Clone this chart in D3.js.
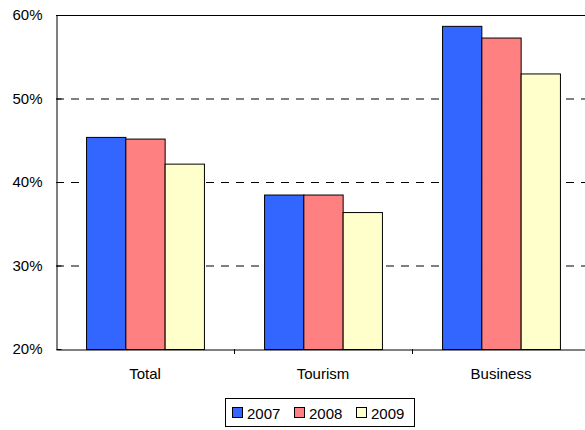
<!DOCTYPE html>
<html><head><meta charset="utf-8">
<script src="https://cdn.jsdelivr.net/npm/d3@7"></script>
<style>body{margin:0;background:#fff;}svg{display:block;font-family:"Liberation Sans",Arial,sans-serif;}</style>
</head><body>
<svg id="c" width="585" height="430"></svg>
<script>
const categories = ["Total", "Tourism", "Business"];
const seriesNames = ["2007", "2008", "2009"];
const values2007 = [45.4, 38.5, 58.7];
const values2008 = [45.2, 38.5, 57.3];
const values2009 = [42.2, 36.4, 53.0];
const yTicks = [20, 30, 40, 50, 60];
const colors = ["#3366FF", "#FF8080", "#FFFFCC"];
const series = [values2007, values2008, values2009];

const svg = d3.select("#c");
const L = 56, T = 15, B = 349, R = 590;
const x = d3.scaleBand().domain(categories).range([L, R]).paddingInner(0).paddingOuter(0);
const xs = d3.scaleBand().domain(seriesNames).range([0, x.bandwidth()]).paddingOuter(0.765).paddingInner(0);
const y = d3.scaleLinear().domain([20, 60]).range([B, T]);

// gridlines
svg.append("g").selectAll("line").data(yTicks.filter(t => t > 20 && t < 60)).join("line")
  .attr("x1", L).attr("x2", R).attr("y1", d => y(d) + 0.5).attr("y2", d => y(d) + 0.5)
  .attr("stroke", "#000").attr("stroke-width", 1).attr("stroke-dasharray", "8,7");
// top frame
svg.append("line").attr("x1", L).attr("x2", R).attr("y1", T + 0.5).attr("y2", T + 0.5).attr("stroke", "#000");

// bars
const g = svg.append("g");
categories.forEach((c, ci) => {
  seriesNames.forEach((s, si) => {
    const v = series[si][ci];
    g.append("rect")
      .attr("x", x(c) + xs(s) + 0.5)
      .attr("y", y(v) + 0.5)
      .attr("width", xs.bandwidth())
      .attr("height", B - y(v))
      .attr("fill", colors[si])
      .attr("stroke", "#000").attr("stroke-width", 1);
  });
});

// y axis
const yAxis = d3.axisLeft(y).tickValues(yTicks).tickFormat(d => d + "%").tickSize(0).tickPadding(14);
const ya = svg.append("g").attr("transform", `translate(${L + 0.5},0)`).call(yAxis);
ya.select(".domain").attr("stroke", "#000");
ya.selectAll("text").attr("font-size", 15).attr("fill", "#000").attr("font-family", "Liberation Sans, Arial, sans-serif");
ya.selectAll(".tick").append("line").attr("x1", 0).attr("x2", 5).attr("stroke", "#000");

// x axis
const xAxis = d3.axisBottom(x).tickSize(0).tickPadding(19);
const xa = svg.append("g").attr("transform", `translate(0,${B + 0.5})`).call(xAxis);
xa.select(".domain").attr("stroke", "#000");
xa.selectAll("text").attr("font-size", 15).attr("fill", "#000").attr("font-family", "Liberation Sans, Arial, sans-serif");
svg.append("g").selectAll("line").data(categories.slice(1)).join("line")
  .attr("x1", d => Math.round(x(d)) + 0.5).attr("x2", d => Math.round(x(d)) + 0.5)
  .attr("y1", B).attr("y2", B + 5).attr("stroke", "#000");

// legend
const lg = svg.append("g");
lg.append("rect").attr("x", 225.5).attr("y", 398.5).attr("width", 189).attr("height", 28)
  .attr("fill", "#fff").attr("stroke", "#000");
const lx = [232, 294, 356];
seriesNames.forEach((s, i) => {
  lg.append("rect").attr("x", lx[i] + 0.5).attr("y", 407.5).attr("width", 10).attr("height", 10)
    .attr("fill", colors[i]).attr("stroke", "#000");
  lg.append("text").attr("x", lx[i] + 15).attr("y", 418.5).attr("font-size", 15).text(s);
});
</script>
</body></html>
